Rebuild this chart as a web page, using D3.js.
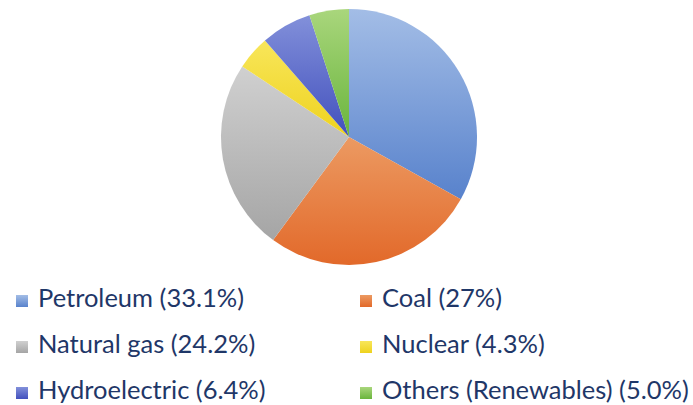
<!DOCTYPE html>
<html>
<head>
<meta charset="utf-8">
<script src="https://cdn.jsdelivr.net/npm/d3@7"></script>
<style>
  body { margin: 0; background: #fff; }
  text { font-family: Lato, "Open Sans", sans-serif; }
</style>
</head>
<body>
<script>
// energy sources and their shares (%)
var sources = ["Petroleum", "Coal", "Natural gas", "Nuclear", "Hydroelectric", "Others (Renewables)"];
var shares = [33.1, 27, 24.2, 4.3, 6.4, 5.0];
var shareLabels = ["33.1%", "27%", "24.2%", "4.3%", "6.4%", "5.0%"];

// light (top) / dark (bottom) colour of each slice
var lightColors = ["#a3bde6", "#ec9a62", "#d0d0d0", "#f8e65a", "#8290da", "#a9d67c"];
var darkColors = ["#5882cc", "#e2692a", "#a5a5a5", "#eed21e", "#4250bd", "#6ab53c"];

var W = 693, H = 405;
var cx = 349, cy = 137, R = 128;

var svg = d3.select("body").append("svg")
  .attr("width", W)
  .attr("height", H);

var defs = svg.append("defs");
sources.forEach(function(s, i) {
  var g = defs.append("linearGradient")
    .attr("id", "grad" + i)
    .attr("x1", 0).attr("y1", 0)
    .attr("x2", 0).attr("y2", 1);
  g.append("stop").attr("offset", "0%").attr("stop-color", lightColors[i]);
  g.append("stop").attr("offset", "100%").attr("stop-color", darkColors[i]);
});

var pie = d3.pie().sort(null).value(function(d) { return d; });
var arc = d3.arc().innerRadius(0).outerRadius(R);

svg.append("g")
  .attr("transform", "translate(" + cx + "," + cy + ")")
  .selectAll("path")
  .data(pie(shares))
  .enter()
  .append("path")
  .attr("d", arc)
  .attr("fill", function(d, i) { return "url(#grad" + i + ")"; });

// legend: two columns, three rows
var colX = d3.scaleOrdinal().domain([0, 1]).range([16, 360]);
var rowY = d3.scaleLinear().domain([0, 2]).range([307, 399]);

var items = svg.append("g").selectAll("g")
  .data(sources)
  .enter()
  .append("g")
  .attr("transform", function(d, i) {
    return "translate(" + colX(i % 2) + "," + rowY(Math.floor(i / 2)) + ")";
  });

items.append("rect")
  .attr("x", 0)
  .attr("y", -12)
  .attr("width", 12)
  .attr("height", 12)
  .attr("fill", function(d, i) { return "url(#grad" + i + ")"; });

items.append("text")
  .attr("x", 22)
  .attr("y", 0)
  .attr("font-size", 25.5)
  .attr("fill", "#1f3768")
  .text(function(d, i) { return d + " (" + shareLabels[i] + ")"; });
</script>
</body>
</html>
